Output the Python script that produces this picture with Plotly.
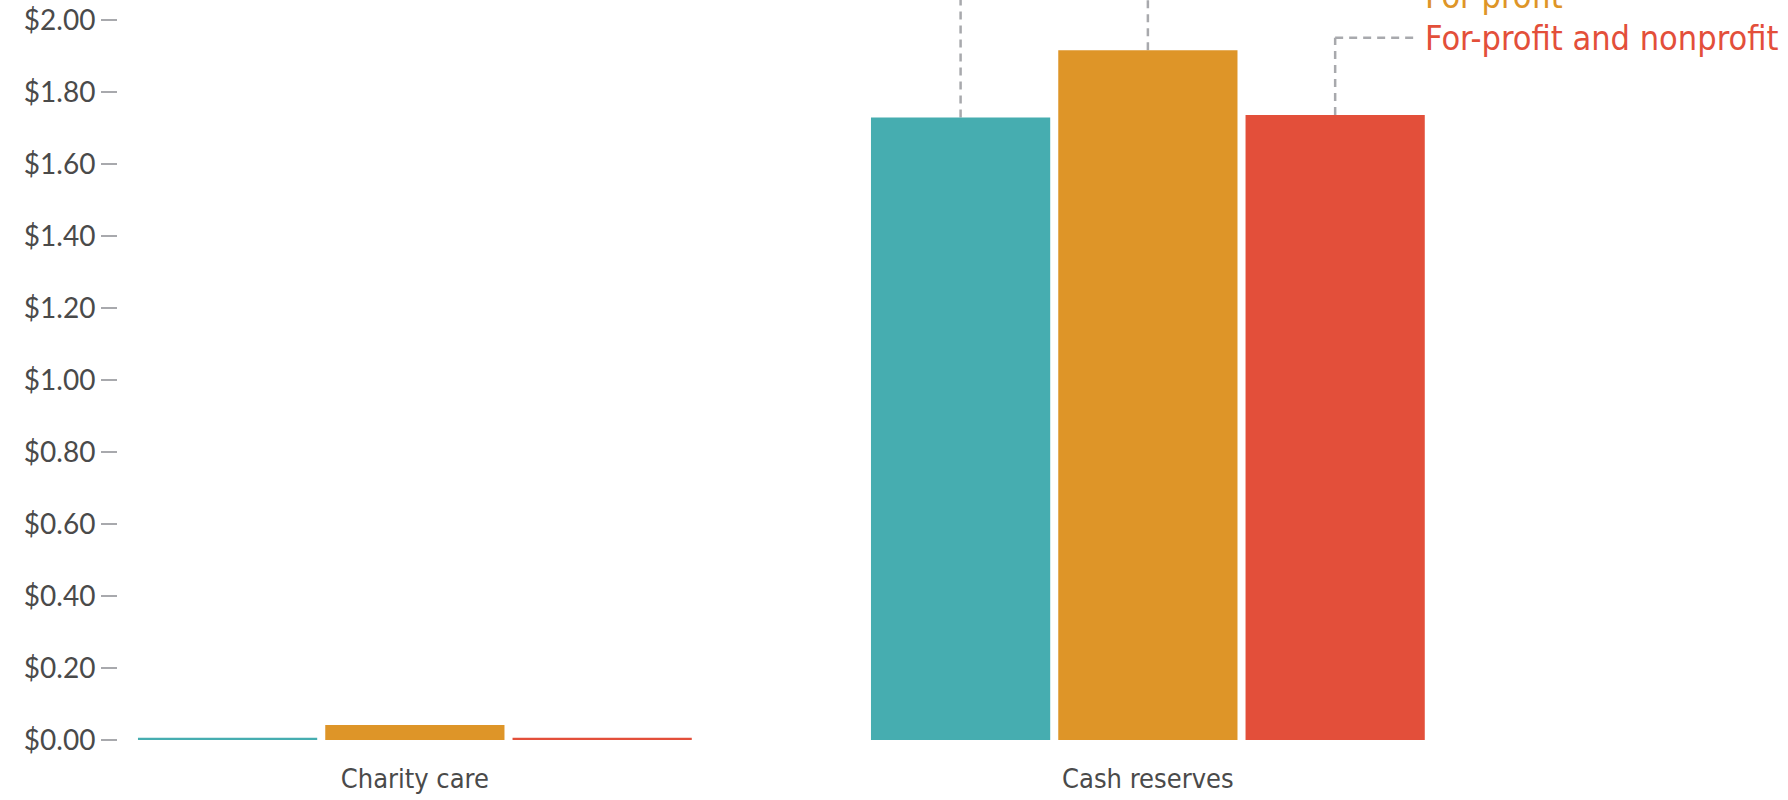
import plotly.graph_objects as go

categories = ["Charity care", "Cash reserves"]
series_names = ["Nonprofit", "For-profit", "For-profit and nonprofit"]
nonprofit = [0.006, 1.730]
for_profit = [0.042, 1.917]
combined = [0.006, 1.737]
colors = ["#46ADB0", "#DE9528", "#E34F3A"]
label_levels = [2.186, 2.069, 1.952]  # y level of each series label
tick_vals = [0.0, 0.2, 0.4, 0.6, 0.8, 1.0, 1.2, 1.4, 1.6, 1.8, 2.0]
tick_text = ["$0.00", "$0.20", "$0.40", "$0.60", "$0.80", "$1.00",
             "$1.20", "$1.40", "$1.60", "$1.80", "$2.00"]

W, H = 1788, 800
ML, MR, MT, MB = 118, 20, 0, 60
Y_MAX = 2.0567
X_MIN, X_MAX = -0.405, 1.846

fig = go.Figure()
all_series = [nonprofit, for_profit, combined]
for name, vals, col in zip(series_names, all_series, colors):
    fig.add_trace(go.Bar(x=categories, y=vals, name=name, marker_color=col,
                         marker_line_width=0, showlegend=False))

BARGAP = 0.2335
GROUPGAP = 0.043
slot = (1 - BARGAP) / 3
label_x = 1.375
leader_end = label_x - 0.011

shapes = []
dash_line = dict(color="#A8A9AD", width=2.5, dash="8px,6px")
for i, (vals, lvl) in enumerate(zip(all_series, label_levels)):
    cx = 1 + (i - 1) * slot
    shapes.append(dict(type="line", xref="x", yref="y", x0=cx, x1=cx,
                       y0=vals[1], y1=lvl, line=dash_line, layer="below"))
    shapes.append(dict(type="line", xref="x", yref="y", x0=cx, x1=leader_end,
                       y0=lvl, y1=lvl, line=dash_line, layer="below"))

annotations = []
for name, col, lvl in zip(series_names, colors, label_levels):
    annotations.append(dict(x=label_x, y=lvl / Y_MAX, xref="x", yref="paper", text=name,
                            showarrow=False, xanchor="left", yanchor="middle",
                            font=dict(family="Liberation Sans Narrow, DejaVu Sans Condensed, sans-serif",
                                      size=34, color=col)))

fig.update_layout(
    width=W, height=H,
    margin=dict(l=ML, r=MR, t=MT, b=MB, pad=0),
    paper_bgcolor="white", plot_bgcolor="white",
    barmode="group", bargap=BARGAP, bargroupgap=GROUPGAP,
    shapes=shapes, annotations=annotations,
    xaxis=dict(range=[X_MIN, X_MAX], showgrid=False, showline=False, zeroline=False,
               ticks="", ticklabelstandoff=20,
               tickfont=dict(family="Liberation Sans Narrow, DejaVu Sans Condensed, sans-serif",
                             size=27, color="#4a4a4a")),
    yaxis=dict(range=[0, Y_MAX], showgrid=False, showline=False, zeroline=False,
               tickvals=tick_vals, ticktext=tick_text, ticks="outside", ticklen=16,
               tickwidth=2, tickcolor="#A8A9AD",
               tickfont=dict(family="Lato, sans-serif", size=28, color="#4a4a4a")),
)

fig.write_html("out.html")
